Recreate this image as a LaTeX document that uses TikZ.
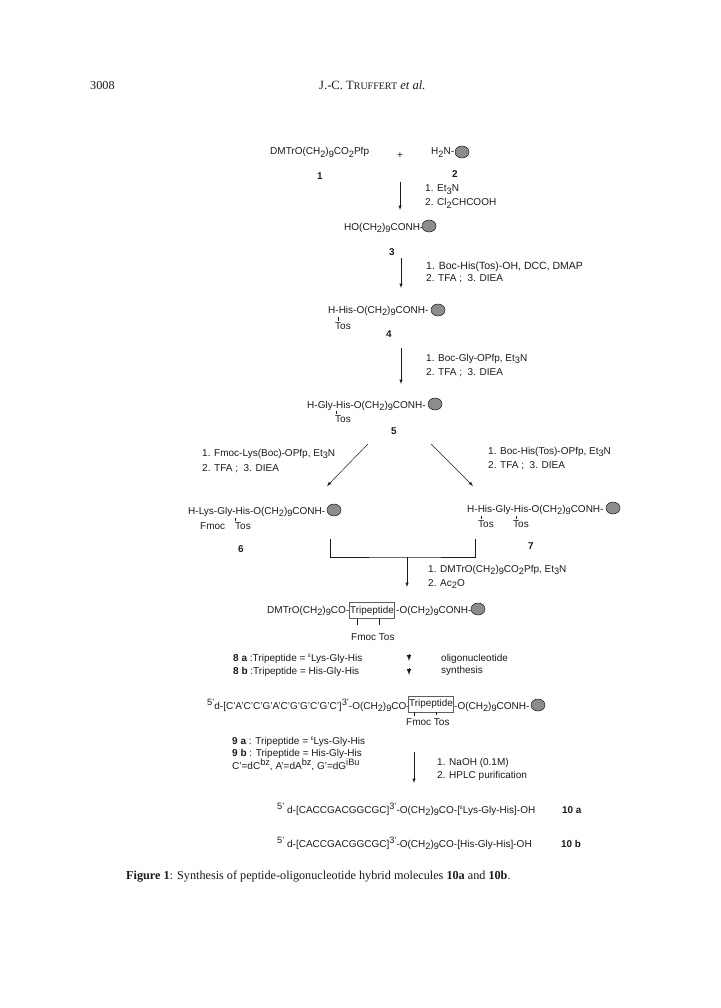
\documentclass[tikz,border=0pt]{standalone}
\usepackage{fontspec}
\setmainfont{Liberation Sans}
\newfontfamily\pagefont{Liberation Serif}
\usetikzlibrary{shapes.geometric, positioning, arrows}
\definecolor{ink}{HTML}{1A1A1A}
\definecolor{beadgray}{HTML}{8C8C8C}
\newcommand{\dn}[1]{\raisebox{-2.8pt}{\fontsize{9.2}{9}\selectfont #1}}
\newcommand{\up}[1]{\raisebox{3.8pt}{\fontsize{9.2}{9}\selectfont #1}}
\newcommand{\eps}{\raisebox{3.4pt}{\fontsize{6.3}{7}\selectfont ε}}
\newcommand{\chain}{(CH\dn{2})\dn{9}}
\begin{document}
\begin{tikzpicture}[
      x=1pt,y=-1pt,
      >=latex,
      chem/.style={anchor=base west,inner sep=0pt,text=ink,font=\fontsize{10}{11}\selectfont},
      cpd/.style={chem,font=\fontsize{9.9}{11}\selectfont\bfseries},
      page/.style={anchor=base west,inner sep=0pt,text=ink,font=\fontsize{12.2}{13}\selectfont\pagefont},
      bead/.style={ellipse,draw=ink,fill=beadgray,line width=0.5pt,minimum width=14pt,minimum height=12pt,inner sep=0pt},
      tripep/.style={draw=ink!70,line width=0.5pt,minimum height=16pt,inner sep=0.5pt,text=ink,font=\fontsize{9.9}{11}\selectfont},
      rxn/.style={->,line width=0.5pt,draw=ink},
      stub/.style={->,line width=1pt,draw=ink},
      bond/.style={line width=0.4pt,draw=ink},
      ]
      \useasboundingbox (0,0) rectangle (720,1008);
      % running head
      \node[page] (folio) at (90,90) {3008};
      \node[page,font=\fontsize{12.6}{13}\selectfont\pagefont] (head) at (319,90) {J.-C. T{\fontsize{10}{10}\selectfont RUFFERT} \textit{et al.}};
      % 1 + 2
      \node[chem] (acid) at (270,155) {DMTrO\chain CO\dn{2}Pfp};
      \node[chem] (plus) at (397,159) {+};
      \node[chem] (amine) at (431,155) {H\dn{2}N-};
      \node[bead] (bead2) at (462,152) {};
      \node[cpd] (n1) at (317,180) {1};
      \node[cpd] (n2) at (452,178) {2};
      \coordinate (a1s) at (400,182);
      \coordinate (a1e) at (400,210);
      \draw[rxn] (a1s) -- (a1e);
      \node[chem] (r1a) at (425,192) {1. Et\dn{3}N};
      \node[chem] (r1b) at (425,206) {2. Cl\dn{2}CHCOOH};
      % 3
      \node[chem] (c3) at (344,230) {HO\chain CONH-};
      \node[bead] (bead3) at (429,226) {};
      \node[cpd] (n3) at (389,255) {3};
      \coordinate (a2s) at (401,258);
      \coordinate (a2e) at (401,288);
      \draw[rxn] (a2s) -- (a2e);
      \node[chem,font=\fontsize{10.5}{11}\selectfont] (r2a) at (426,269) {1. Boc-His(Tos)-OH, DCC, DMAP};
      \node[chem] (r2b) at (426,281) {2. TFA ;\ \ 3. DIEA};
      % 4
      \node[chem] (c4) at (328,313) {H-His-O\chain CONH-};
      \node[bead] (bead4) at (438,310) {};
      \node[chem] (tos4) at (335,329) {Tos};
      \draw[bond] ([xshift=-5pt,yshift=1pt]tos4.north) -- ++(0,-4);
      \node[cpd] (n4) at (386,337) {4};
      \coordinate (a3s) at (401,348);
      \coordinate (a3e) at (401,384);
      \draw[rxn] (a3s) -- (a3e);
      \node[chem] (r3a) at (426,361) {1. Boc-Gly-OPfp, Et\dn{3}N};
      \node[chem] (r3b) at (426,375) {2. TFA ;\ \ 3. DIEA};
      % 5
      \node[chem] (c5) at (307,408) {H-Gly-His-O\chain CONH-};
      \node[bead] (bead5) at (435,404) {};
      \node[chem] (tos5) at (335,422) {Tos};
      \draw[bond] ([xshift=-7pt,yshift=1pt]tos5.north) -- ++(0,-3);
      \node[cpd] (n5) at (391,434) {5};
      \coordinate (a4s) at (368,444);
      \coordinate (a4e) at (327,486);
      \coordinate (a5s) at (431,444);
      \coordinate (a5e) at (473,486);
      \draw[rxn] (a4s) -- (a4e);
      \draw[rxn] (a5s) -- (a5e);
      \node[chem] (r4a) at (202,456) {1. Fmoc-Lys(Boc)-OPfp, Et\dn{3}N};
      \node[chem] (r4b) at (202,471) {2. TFA ;\ \ 3. DIEA};
      \node[chem] (r5a) at (488,454) {1. Boc-His(Tos)-OPfp, Et\dn{3}N};
      \node[chem] (r5b) at (488,468) {2. TFA ;\ \ 3. DIEA};
      % 6 and 7
      \node[chem] (c6) at (188,514) {H-Lys-Gly-His-O\chain CONH-};
      \node[bead] (bead6) at (334,510) {};
      \node[chem] (fmoc6) at (200,529) {Fmoc};
      \node[chem] (tos6) at (235,529) {Tos};
      \draw[bond] ([xshift=-8pt,yshift=1pt]tos6.north) -- ++(0,-3);
      \node[cpd] (n6) at (238,552) {6};
      \node[chem] (c7) at (467,512) {H-His-Gly-His-O\chain CONH-};
      \node[bead] (bead7) at (613,508) {};
      \node[chem] (tos7a) at (478,527) {Tos};
      \node[chem] (tos7b) at (513,527) {Tos};
      \draw[bond] ([xshift=-5pt,yshift=1pt]tos7a.north) -- ++(0,-3);
      \draw[bond] ([xshift=-5pt,yshift=1pt]tos7b.north) -- ++(0,-3);
      \node[cpd] (n7) at (528,549) {7};
      \coordinate (br6) at (330,539);
      \coordinate (br7) at (475,539);
      \coordinate (brm) at (407,557);
      \coordinate (a6e) at (407,587);
      \draw[bond,line width=0.5pt] (br6) |- (brm) -| (br7);
      \draw[rxn] (brm) -- (a6e);
      \node[chem] (r6a) at (428,572) {1. DMTrO\chain CO\dn{2}Pfp, Et\dn{3}N};
      \node[chem] (r6b) at (428,586) {2. Ac\dn{2}O};
      % 8
      \node[chem] (c8l) at (267,613) {DMTrO\chain CO-};
      \node[tripep] (tri8) at (372,610.5) {Tripeptide};
      \node[chem] (c8r) at (396,613) {-O\chain CONH-};
      \node[bead] (bead8) at (478,609) {};
      \draw[bond] ([xshift=-15pt]tri8.south) -- ++(0,6);
      \draw[bond] ([xshift=7pt]tri8.south) -- ++(0,6);
      \node[chem] (fmoc8) at (351,640) {Fmoc Tos};
      \node[chem] (l8a) at (233,661) {\textbf{8 a} :Tripeptide = \eps Lys-Gly-His};
      \node[chem] (l8b) at (233,674) {\textbf{8 b} :Tripeptide = His-Gly-His};
      \coordinate (a7s) at (409,654);
      \coordinate (a7e) at (409,661);
      \coordinate (a8s) at (409,668);
      \coordinate (a8e) at (409,675);
      \draw[stub] (a7s) -- (a7e);
      \draw[stub] (a8s) -- (a8e);
      \node[chem] (r7a) at (441,661) {oligonucleotide};
      \node[chem] (r7b) at (441,673) {synthesis};
      % 9
      \node[chem] (c9l) at (207,709) {\up{5'}d-[C'A'C'C'G'A'C'G'G'C'G'C']\up{3'}-O\chain CO-};
      \node[tripep] (tri9) at (431,704) {Tripeptide};
      \node[chem] (c9r) at (454,709) {-O\chain CONH-};
      \node[bead] (bead9) at (538,705) {};
      \draw[bond] ([xshift=-17pt]tri9.south) -- ++(0,4);
      \draw[bond] ([xshift=5pt]tri9.south) -- ++(0,3);
      \node[chem] (fmoc9) at (406,725) {Fmoc Tos};
      \node[chem] (l9a) at (232,744) {\textbf{9 a} : Tripeptide = \eps Lys-Gly-His};
      \node[chem] (l9b) at (232,756) {\textbf{9 b} : Tripeptide = His-Gly-His};
      \node[chem] (l9c) at (232,769) {C'=dC\up{bz}, A'=dA\up{bz}, G'=dG\up{iBu}};
      \coordinate (a9s) at (414,752);
      \coordinate (a9e) at (414,783);
      \draw[rxn] (a9s) -- (a9e);
      \node[chem] (r9a) at (437,765) {1. NaOH (0.1M)};
      \node[chem] (r9b) at (437,778) {2. HPLC purification};
      % 10
      \node[chem] (c10a) at (277,813) {\up{5'} d-[CACCGACGGCGC]\up{3'}-O\chain CO-[\eps Lys-Gly-His]-OH};
      \node[cpd] (n10a) at (562,813) {10 a};
      \node[chem] (c10b) at (277,847) {\up{5'} d-[CACCGACGGCGC]\up{3'}-O\chain CO-[His-Gly-His]-OH};
      \node[cpd] (n10b) at (561,847) {10 b};
      % caption
      \node[page] (capt) at (126,879) {\textbf{Figure 1}: Synthesis of peptide-oligonucleotide hybrid molecules \textbf{10a} and \textbf{10b}.};
    \end{tikzpicture}
\end{document}
